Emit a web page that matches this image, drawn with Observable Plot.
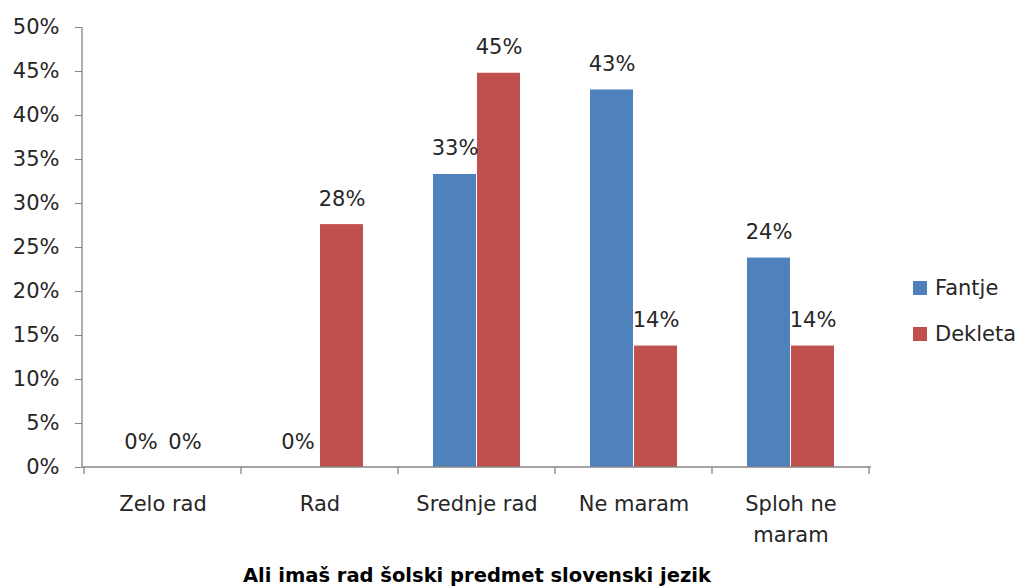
<!DOCTYPE html>
<html>
<head>
<meta charset="utf-8">
<script src="https://cdn.jsdelivr.net/npm/d3@7"></script>
<script src="https://cdn.jsdelivr.net/npm/@observablehq/plot@0.6"></script>
<style>
  html, body { margin: 0; padding: 0; background: #fff; }
  #wrap { position: relative; width: 1018px; height: 587px; font-family: "DejaVu Sans", sans-serif; color: #262626; }
  #title { position: absolute; left: 82px; width: 790px; top: 563px; text-align: center; font-weight: bold; font-size: 19.5px; line-height: 26px; color: #000; }
  #legend { position: absolute; left: 913px; top: 275px; font-size: 21px; }
  .li { display: flex; align-items: center; height: 26px; margin-bottom: 20px; }
  .sw { width: 14px; height: 14px; margin-right: 8px; }
</style>
</head>
<body>
<div id="wrap"></div>
<script>
const categories = ["Zelo rad", "Rad", "Srednje rad", "Ne maram", "Sploh ne maram"];
const xTickLabels = ["Zelo rad", "Rad", "Srednje rad", "Ne maram", "Sploh ne\nmaram"];
const seriesNames = ["Fantje", "Dekleta"];
const fantje = [0, 0, 0.333, 0.429, 0.238];
const dekleta = [0, 0.276, 0.448, 0.138, 0.138];
const yTicks = [0, 0.05, 0.10, 0.15, 0.20, 0.25, 0.30, 0.35, 0.40, 0.45, 0.50];
const colors = ["#4F81BD", "#C0504D"];
const titleText = "Ali imaš rad šolski predmet slovenski jezik";

const rowsF = categories.map((c, i) => ({category: c, value: fantje[i]}));
const rowsD = categories.map((c, i) => ({category: c, value: dekleta[i]}));
const labelOf = new Map(categories.map((c, i) => [c, xTickLabels[i]]));
const pct = d3.format(".0%");
const axisColor = "#868686";
const fontFam = "'DejaVu Sans', sans-serif";

function axesLines(index, scales, values, dims) {
  const x = scales.x, y = scales.y;
  const bw = typeof x.bandwidth === "function" ? x.bandwidth() : x.bandwidth;
  const y0 = y(0), yTop = y(yTicks[yTicks.length - 1]);
  const left = dims.marginLeft, right = dims.width - dims.marginRight;
  const g = d3.create("svg:g").attr("stroke", axisColor).attr("stroke-width", 1.3).attr("fill", "none");
  g.append("line").attr("x1", left).attr("x2", left).attr("y1", yTop).attr("y2", y0);
  g.append("line").attr("x1", left).attr("x2", right).attr("y1", y0).attr("y2", y0);
  const edges = categories.map(c => x(c)).concat([x(categories[categories.length - 1]) + bw]);
  for (const e of edges) {
    g.append("line").attr("x1", e).attr("x2", e).attr("y1", y0).attr("y2", y0 + 7);
  }
  return g.node();
}

const chart = Plot.plot({
  width: 1018,
  height: 560,
  marginLeft: 82,
  marginRight: 147,
  marginTop: 27,
  marginBottom: 93,
  style: {fontFamily: fontFam, fontSize: "21px", color: "#262626", background: "#fff"},
  x: {domain: categories, padding: 0},
  y: {domain: [0, 0.5]},
  marks: [
    Plot.barY(rowsF, {x: "category", y: "value", fill: colors[0], insetLeft: 35, insetRight: 79}),
    Plot.barY(rowsD, {x: "category", y: "value", fill: colors[1], insetLeft: 79, insetRight: 35}),
    Plot.text(rowsF, {x: "category", y: "value", text: d => pct(d.value), dx: -22, dy: -19, lineAnchor: "bottom", fill: "#262626", fontSize: 21}),
    Plot.text(rowsD, {x: "category", y: "value", text: d => pct(d.value), dx: 22, dy: -19, lineAnchor: "bottom", fill: "#262626", fontSize: 21}),
    Plot.axisY({ticks: yTicks, tickFormat: pct, tickSize: 7, tickPadding: 16, stroke: axisColor, fill: "#262626", label: null, fontSize: 21}),
    Plot.axisX({tickSize: 0, tickPadding: 21, tickFormat: d => labelOf.get(d), lineHeight: 1.48, fill: "#262626", label: null, fontSize: 21}),
    axesLines
  ]
});

const wrap = document.getElementById("wrap");
wrap.appendChild(chart);

const legend = document.createElement("div");
legend.id = "legend";
seriesNames.forEach((name, i) => {
  const item = document.createElement("div");
  item.className = "li";
  const sw = document.createElement("div");
  sw.className = "sw";
  sw.style.background = colors[i];
  const t = document.createElement("span");
  t.textContent = name;
  item.appendChild(sw);
  item.appendChild(t);
  legend.appendChild(item);
});
wrap.appendChild(legend);

const title = document.createElement("div");
title.id = "title";
title.textContent = titleText;
wrap.appendChild(title);
</script>
</body>
</html>
